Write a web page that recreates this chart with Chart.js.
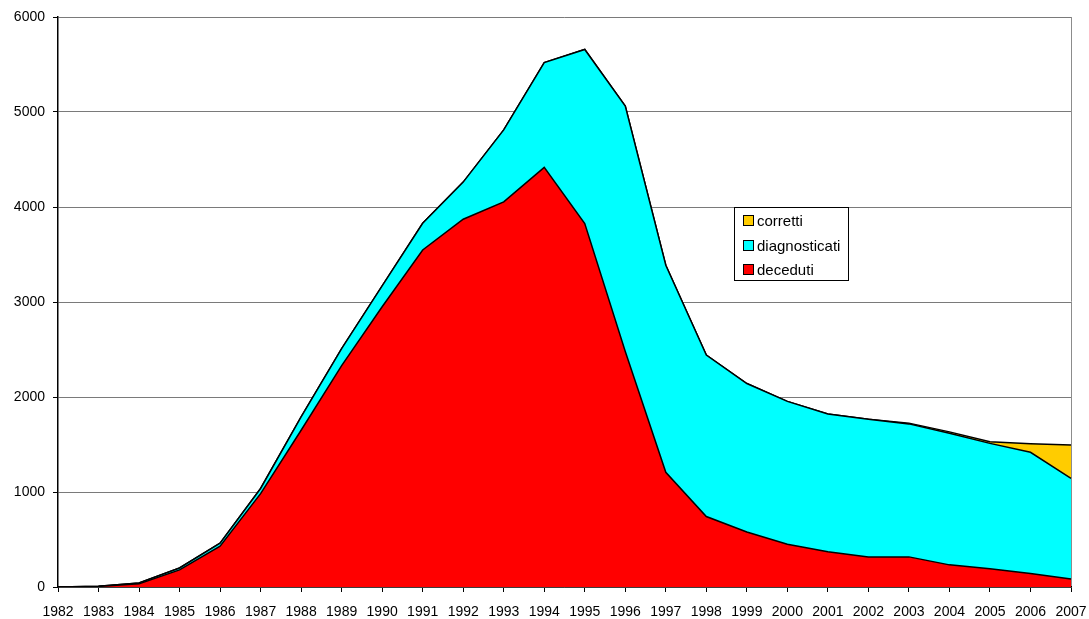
<!DOCTYPE html>
<html>
<head>
<meta charset="utf-8">
<script src="https://cdn.jsdelivr.net/npm/chart.js@4/dist/chart.umd.min.js"></script>
<style>
    html, body { margin: 0; padding: 0; background: #fff; }
    #wrap { width: 1089px; height: 619px; position: relative; }
</style>
</head>
<body>
<div id="wrap"><canvas id="areaChart" width="1089" height="619"></canvas></div>
<script>
// anni
const years = ['1982', '1983', '1984', '1985', '1986', '1987', '1988', '1989', '1990', '1991', '1992', '1993', '1994',
    '1995', '1996', '1997', '1998', '1999', '2000', '2001', '2002', '2003', '2004', '2005', '2006', '2007'];

// valori (stacked)
const deceduti = [0, 6, 33, 180, 430, 983, 1650, 2330, 2950, 3548, 3871, 4054, 4417,
    3825, 2480, 1208, 742, 579, 450, 371, 317, 317, 233, 192, 142, 83];
const diagnosticati = [0, 2, 9, 20, 32, 54, 140, 180, 220, 281, 391, 758, 1104,
    1833, 2582, 2179, 1700, 1563, 1504, 1450, 1450, 1400, 1385, 1320, 1276, 1061];
const corretti = [0, 0, 0, 0, 0, 0, 0, 0, 0, 0, 0, 0, 0,
    0, 0, 0, 0, 0, 0, 0, 0, 8, 15, 18, 90, 350];

const yTicks = [0, 1000, 2000, 3000, 4000, 5000, 6000];

const FONT = 'Liberation Sans, Arial, sans-serif';

// legenda dentro l'area del grafico
const legendBox = {
    id: 'legendBox',
    afterDraw(chart) {
        const ctx = chart.ctx;
        const items = chart.data.datasets.slice().reverse();
        ctx.save();
        ctx.fillStyle = '#fff';
        ctx.fillRect(734.5, 207.5, 114, 73);
        ctx.strokeStyle = '#000';
        ctx.lineWidth = 1;
        ctx.strokeRect(734.5, 207.5, 114, 73);
        ctx.font = '15px ' + FONT;
        ctx.textBaseline = 'middle';
        items.forEach(function(ds, i) {
            const cy = 221 + i * 24.5;
            ctx.fillStyle = ds.backgroundColor;
            ctx.fillRect(743.5, Math.round(cy) - 5.5, 10, 10);
            ctx.strokeRect(743.5, Math.round(cy) - 5.5, 10, 10);
            ctx.fillStyle = '#000';
            ctx.fillText(ds.label, 757, cy + 1);
        });
        ctx.restore();
    }
};

new Chart(document.getElementById('areaChart').getContext('2d'), {
    type: 'line',
    data: {
        labels: years,
        datasets: [{
            label: 'deceduti',
            data: deceduti,
            backgroundColor: '#FF0000',
            borderColor: '#000',
            borderWidth: 1.5,
            fill: 'origin'
        }, {
            label: 'diagnosticati',
            data: diagnosticati,
            backgroundColor: '#00FFFF',
            borderColor: '#000',
            borderWidth: 1.5,
            fill: '-1'
        }, {
            label: 'corretti',
            data: corretti,
            backgroundColor: '#FFCC00',
            borderColor: '#000',
            borderWidth: 1.5,
            fill: '-1'
        }]
    },
    options: {
        responsive: false,
        animation: false,
        elements: {
            point: { radius: 0 },
            line: { tension: 0 }
        },
        layout: {
            padding: { top: 17, right: 18, left: 0, bottom: 0 }
        },
        plugins: {
            legend: { display: false },
            tooltip: { enabled: false }
        },
        scales: {
            x: {
                offset: false,
                grid: {
                    display: true,
                    drawOnChartArea: true,
                    color: (c) => c.index === years.length - 1 ? '#8c8c8c' : 'rgba(0,0,0,0)',
                    tickColor: '#000',
                    tickLength: 5
                },
                border: { color: '#000', width: 1.5 },
                ticks: {
                    color: '#000',
                    font: { family: FONT, size: 14 },
                    maxRotation: 0,
                    autoSkip: false,
                    padding: 12
                },
                afterFit: function(scale) {
                    scale.height = 32;
                    scale.paddingRight = 0;
                    scale.paddingLeft = 0;
                }
            },
            y: {
                stacked: true,
                min: 0,
                max: 6000,
                afterBuildTicks: function(scale) {
                    scale.ticks = yTicks.map(v => ({ value: v }));
                },
                grid: {
                    color: '#7a7a7a',
                    tickColor: '#000',
                    tickLength: 5
                },
                border: { color: '#000', width: 1.5 },
                ticks: {
                    color: '#000',
                    font: { family: FONT, size: 14 },
                    padding: 8,
                    callback: (v) => String(v)
                },
                afterFit: function(scale) { scale.width = 58; }
            }
        }
    },
    plugins: [legendBox]
});
</script>
</body>
</html>
